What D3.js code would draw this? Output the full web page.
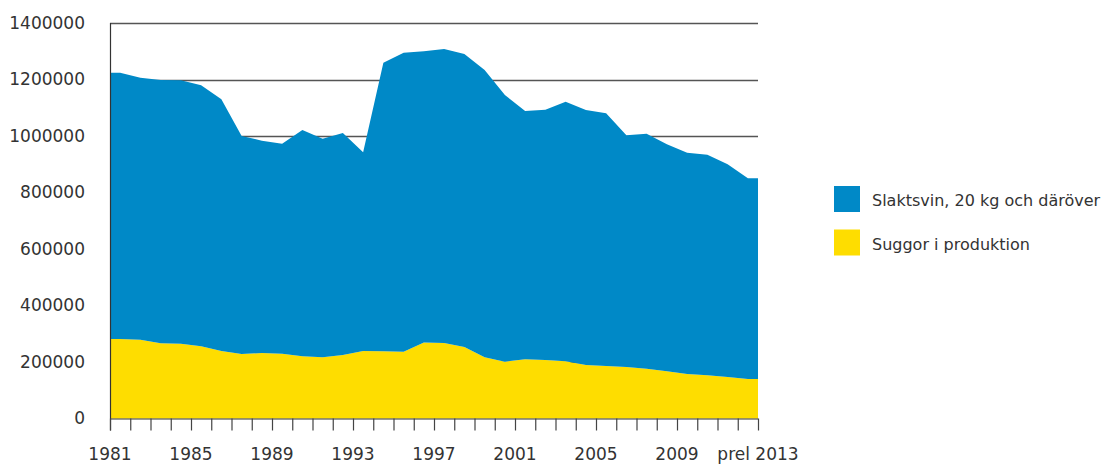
<!DOCTYPE html>
<html>
<head>
<meta charset="utf-8">
<script src="https://cdn.jsdelivr.net/npm/d3@7"></script>
<style>
  body { margin: 0; background: #fff; }
  text { font-family: "DejaVu Sans", sans-serif; fill: #333; }
</style>
</head>
<body>
<div id="vis"></div>
<script>
// Values per year (plotted mid-year)
var years = d3.range(1981, 2013);
var suggor = [281400, 278900, 266200, 264800, 255600, 238900, 228300, 231900,
    229400, 220200, 216600, 224800, 238900, 237900, 236500, 269000,
    267300, 253100, 216600, 201100, 209600, 207100, 202500, 189400,
    185800, 182300, 176300, 167100, 157500, 152900, 146900, 139800];
var slaktsvin = [942700, 927500, 932000, 932400, 923900, 891000, 771700, 751500,
    743300, 801000, 773800, 785800, 703400, 1021600, 1058400, 1030800,
    1040700, 1037200, 1017000, 944000, 878900, 886000, 918900, 902600,
    894600, 820200, 831800, 803500, 783400, 780900, 752900, 710500];

var tickYears = d3.range(1981, 2014);
var labelYears = [1981, 1985, 1989, 1993, 1997, 2001, 2005, 2009, 2013];
var yTicks = [0, 200000, 400000, 600000, 800000, 1000000, 1200000, 1400000];

var keys = ["suggor", "slaktsvin"];
var legendItems = [
    { key: "slaktsvin", label: "Slaktsvin, 20 kg och däröver" },
    { key: "suggor", label: "Suggor i produktion" }
];
var colors = { suggor: "#fedd00", slaktsvin: "#0089c7" };

var width = 1107,
    height = 464,
    margin = { top: 23, left: 110, right: 349, bottom: 45.5 },
    drawRight = width - margin.right,
    drawBottom = height - margin.bottom;

var svg = d3.select("#vis").append("svg")
    .attr("width", width)
    .attr("height", height);

var x = d3.scaleLinear()
    .domain([1981, 2013])
    .range([margin.left, drawRight]);

var y = d3.scaleLinear()
    .domain([0, 1400000])
    .range([drawBottom, margin.top]);

var rows = years.map(function(yr, i) {
    return { year: yr, suggor: suggor[i], slaktsvin: slaktsvin[i] };
});

var stacked = d3.stack().keys(keys)(rows);

// gridlines
svg.append("g")
    .selectAll("line")
    .data(yTicks.slice(1))
    .enter()
    .append("line")
    .attr("x1", margin.left)
    .attr("x2", drawRight)
    .attr("y1", function(d) { return Math.round(y(d)) + 0.5; })
    .attr("y2", function(d) { return Math.round(y(d)) + 0.5; })
    .style("stroke", "#555")
    .style("stroke-width", 1.4);

// area points: mid-year, extended flat to the axis ends
var area = d3.area()
    .x(function(d) { return x(d.pos); })
    .y0(function(d) { return y(d.v0); })
    .y1(function(d) { return y(d.v1); });

stacked.forEach(function(s) {
    var pts = s.map(function(d) {
        return { pos: d.data.year + 0.5, v0: d[0], v1: d[1] };
    });
    pts.unshift({ pos: 1981, v0: s[0][0], v1: s[0][1] });
    pts.push({ pos: 2013, v0: s[s.length - 1][0], v1: s[s.length - 1][1] });
    svg.append("path")
        .datum(pts)
        .attr("d", area)
        .style("fill", colors[s.key]);
});

// y axis
var yAxis = d3.axisLeft(y)
    .tickValues(yTicks)
    .tickSize(0)
    .tickPadding(25)
    .tickFormat(function(d) { return d; });

var gy = svg.append("g")
    .attr("transform", "translate(" + margin.left + ",0)")
    .call(yAxis);
gy.select(".domain").remove();
gy.selectAll("text")
    .style("font-size", "17px")
    .style("font-family", "'DejaVu Sans', sans-serif")
    .style("fill", "#333");

svg.append("line")
    .attr("x1", margin.left + 0.5).attr("x2", margin.left + 0.5)
    .attr("y1", margin.top).attr("y2", drawBottom + 12)
    .style("stroke", "#333").style("stroke-width", 1.2);

// x axis
var xAxis = d3.axisBottom(x)
    .tickValues(tickYears)
    .tickSize(12)
    .tickFormat("");

var gx = svg.append("g")
    .attr("transform", "translate(0," + drawBottom + ")")
    .call(xAxis);
gx.select(".domain").attr("d", "M" + margin.left + ",0.5H" + drawRight)
    .style("stroke", "#333");
gx.selectAll(".tick line").style("stroke", "#444").style("stroke-width", 1.2);

svg.append("g")
    .selectAll("text")
    .data(labelYears)
    .enter()
    .append("text")
    .attr("x", function(d) { return x(d); })
    .attr("y", drawBottom + 41.5)
    .attr("text-anchor", "middle")
    .style("font-size", "17px")
    .text(function(d) { return d === 2013 ? "prel 2013" : d; });

// legend
var legend = svg.append("g")
    .selectAll("g")
    .data(legendItems)
    .enter()
    .append("g")
    .attr("transform", function(d, i) {
        return "translate(834," + (186 + i * 43.5) + ")";
    });

legend.append("rect")
    .attr("width", 26)
    .attr("height", 26)
    .style("fill", function(d) { return colors[d.key]; });

legend.append("text")
    .attr("x", 38)
    .attr("y", 20)
    .style("font-size", "16px")
    .text(function(d) { return d.label; });
</script>
</body>
</html>
